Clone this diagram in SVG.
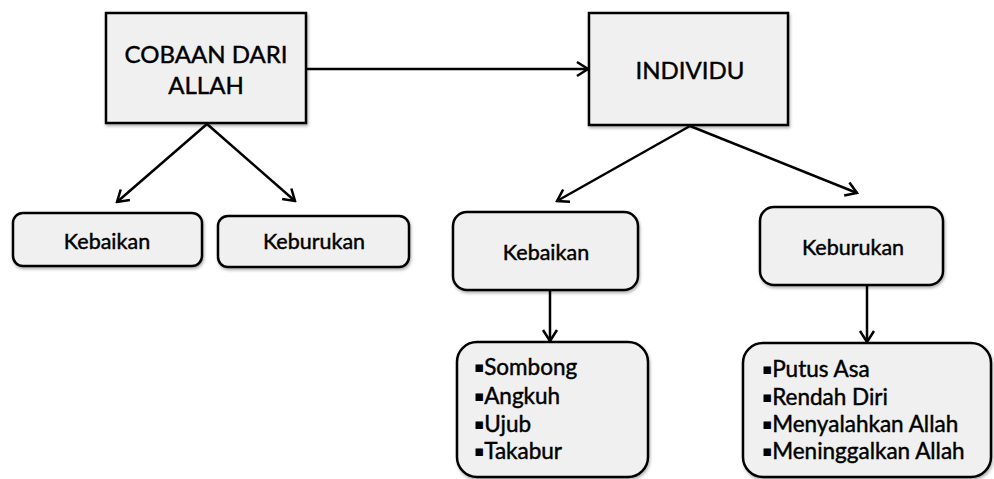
<svg xmlns="http://www.w3.org/2000/svg" width="994" height="479" viewBox="0 0 994 479">
<style>
.box{fill:#f0f0f0;stroke:#000;stroke-width:2.5}
.t{font-family:Lato,"Open Sans","Liberation Sans",sans-serif;fill:#000;stroke:#000;stroke-width:0.45}
.big{font-size:24px;text-anchor:middle}
.mid{font-size:21.5px;text-anchor:middle}
.li{font-size:22.5px}
.b{font-family:"DejaVu Sans",sans-serif;font-size:15px;stroke:none}
.conn{stroke:#000;stroke-width:2.5;fill:none;marker-end:url(#ah)}
</style>
<defs>
<marker id="ah" viewBox="-14 -9 16 18" refX="0" refY="0" markerWidth="16" markerHeight="18" markerUnits="userSpaceOnUse" orient="auto">
<path d="M-11,-7 L0,0 L-11,7" fill="none" stroke="#000" stroke-width="2.5"/>
</marker>
<filter id="sh" x="-10%" y="-10%" width="120%" height="130%">
<feDropShadow dx="1" dy="2" stdDeviation="1.5" flood-color="#000" flood-opacity="0.3"/>
</filter>
</defs>
<g id="connectors">
<line class="conn" x1="306" y1="69" x2="588" y2="69"/>
<line class="conn" x1="207" y1="124" x2="117" y2="202"/>
<line class="conn" x1="207" y1="124" x2="295" y2="201"/>
<line class="conn" x1="690" y1="126" x2="557" y2="201"/>
<line class="conn" x1="690" y1="126" x2="857" y2="193"/>
<line class="conn" x1="550" y1="291" x2="550" y2="341"/>
<line class="conn" x1="867" y1="286" x2="867" y2="342"/>
</g>
<g id="cobaan">
<rect class="box" filter="url(#sh)" x="106" y="13" width="200" height="110"/>
<text class="t big" x="206" y="63">COBAAN DARI</text>
<text class="t big" x="206" y="94">ALLAH</text>
</g>
<g id="individu">
<rect class="box" filter="url(#sh)" x="589" y="13" width="199" height="112"/>
<text class="t big" x="690" y="79">INDIVIDU</text>
</g>
<g id="kebaikan1">
<rect class="box" filter="url(#sh)" x="13" y="213" width="189" height="53" rx="10"/>
<text class="t mid" x="107" y="249">Kebaikan</text>
</g>
<g id="keburukan1">
<rect class="box" filter="url(#sh)" x="218" y="216" width="191" height="51" rx="10"/>
<text class="t mid" x="314" y="249">Keburukan</text>
</g>
<g id="kebaikan2">
<rect class="box" filter="url(#sh)" x="453" y="212" width="185" height="78" rx="14"/>
<text class="t mid" x="546" y="260">Kebaikan</text>
</g>
<g id="keburukan2">
<rect class="box" filter="url(#sh)" x="760" y="207" width="183" height="78" rx="14"/>
<text class="t mid" x="853" y="255">Keburukan</text>
</g>
<g id="list1">
<rect class="box" filter="url(#sh)" x="457" y="342" width="191" height="135" rx="20"/>
<text class="t li" x="474" y="375"><tspan class="b" dy="-3">▪</tspan><tspan dy="3">Sombong</tspan></text>
<text class="t li" x="474" y="404"><tspan class="b" dy="-3">▪</tspan><tspan dy="3">Angkuh</tspan></text>
<text class="t li" x="474" y="432"><tspan class="b" dy="-3">▪</tspan><tspan dy="3">Ujub</tspan></text>
<text class="t li" x="474" y="459"><tspan class="b" dy="-3">▪</tspan><tspan dy="3">Takabur</tspan></text>
</g>
<g id="list2">
<rect class="box" filter="url(#sh)" x="743" y="343" width="248" height="134" rx="20"/>
<text class="t li" x="762" y="377"><tspan class="b" dy="-3">▪</tspan><tspan dy="3">Putus Asa</tspan></text>
<text class="t li" x="762" y="405"><tspan class="b" dy="-3">▪</tspan><tspan dy="3">Rendah Diri</tspan></text>
<text class="t li" x="762" y="432"><tspan class="b" dy="-3">▪</tspan><tspan dy="3">Menyalahkan Allah</tspan></text>
<text class="t li" x="762" y="459"><tspan class="b" dy="-3">▪</tspan><tspan dy="3">Meninggalkan Allah</tspan></text>
</g>
</svg>
